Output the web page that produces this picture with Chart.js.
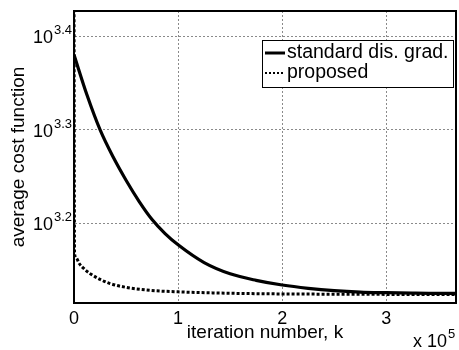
<!DOCTYPE html>
<html><head><meta charset="utf-8">
<script src="https://cdn.jsdelivr.net/npm/chart.js@4.4.1/dist/chart.umd.min.js"></script>
<style>html,body{margin:0;padding:0;background:#fff;}</style>
</head><body>
<canvas id="c" width="459" height="350"></canvas>
<script>
// ---- data ----
const iterStandard = [0, 12500, 25000, 37500, 50000, 62500, 75000, 87500, 100000, 125000, 150000, 175000, 200000, 225000, 250000, 275000, 300000, 325000, 350000, 367000];
const costStandard = [2398.8, 2172.7, 1995.3, 1866.4, 1761.9, 1673.0, 1599.6, 1545.3, 1503.1, 1438.8, 1399.6, 1377.2, 1361.4, 1350.5, 1342.8, 1338.1, 1336.0, 1334.4, 1333.5, 1333.5];
const iterProposed = [0, 500, 2000, 5000, 10000, 15000, 25000, 34000, 50000, 73000, 100000, 150000, 200000, 250000, 300000, 367000];
const costProposed = [2818.4, 1472.3, 1455.5, 1435.5, 1415.8, 1401.2, 1380.4, 1367.1, 1353.6, 1343.7, 1338.8, 1334.1, 1331.9, 1331.0, 1330.4, 1329.8];
const seriesNames = ['standard dis. grad.', 'proposed'];
const xTicks = [0, 100000, 200000, 300000];
const xTickLabels = ['0', '1', '2', '3'];
const yTickValues = [1584.89, 1995.26, 2511.89];
const yTickBase = '10';
const yTickExponents = ['3.2', '3.3', '3.4'];
const xMultiplierBase = 'x 10';
const xMultiplierExp = '5';
const xTitle = 'iteration number, k';
const yTitle = 'average cost function';

const FONT = '"Liberation Sans", Arial, Helvetica, sans-serif';

const toXY = (xs, ys) => xs.map((x, i) => ({x: x, y: ys[i]}));

const decor = {
  id: 'decor',
  afterDatasetsDraw(chart) {
    const {ctx, chartArea: a} = chart;
    ctx.save();
    ctx.strokeStyle = '#000';
    ctx.lineWidth = 2;
    ctx.setLineDash([]);
    ctx.strokeRect(a.left, a.top, a.right - a.left, a.bottom - a.top);
    ctx.restore();
  },
  afterDraw(chart) {
    const {ctx} = chart;
    const ys = chart.scales.y;
    ctx.save();
    ctx.fillStyle = '#000';
    // y tick labels with superscripts
    yTickValues.forEach((v, i) => {
      const py = ys.getPixelForValue(v);
      ctx.font = '18px ' + FONT;
      ctx.textAlign = 'right';
      ctx.textBaseline = 'alphabetic';
      ctx.fillText(yTickBase, 53, py + 7);
      ctx.font = '13px ' + FONT;
      ctx.textAlign = 'left';
      ctx.fillText(yTickExponents[i], 54, py - 2);
    });
    // x multiplier
    ctx.font = '18px ' + FONT;
    ctx.textAlign = 'left';
    ctx.textBaseline = 'alphabetic';
    ctx.fillText(xMultiplierBase, 413, 347);
    ctx.font = '13px ' + FONT;
    ctx.fillText(xMultiplierExp, 448, 338);
    // legend
    const lx = 262, ly = 40, lw = 191, lh = 47;
    ctx.fillStyle = '#fff';
    ctx.fillRect(lx, ly, lw, lh);
    ctx.strokeStyle = '#000';
    ctx.lineWidth = 1;
    ctx.strokeRect(lx + 0.5, ly + 0.5, lw, lh);
    const rows = [53, 73];
    chart.data.datasets.forEach((ds, i) => {
      ctx.beginPath();
      ctx.lineWidth = i === 0 ? 3 : 2;
      ctx.setLineDash(i === 0 ? [] : [2, 2]);
      ctx.moveTo(265, rows[i]);
      ctx.lineTo(285, rows[i]);
      ctx.stroke();
      ctx.setLineDash([]);
      ctx.fillStyle = '#000';
      ctx.font = '19.5px ' + FONT;
      ctx.textAlign = 'left';
      ctx.textBaseline = 'middle';
      ctx.fillText(ds.label, 287, rows[i]);
    });
    ctx.restore();
  }
};

new Chart(document.getElementById('c'), {
  type: 'line',
  data: {
    datasets: [
      {label: seriesNames[0], data: toXY(iterStandard, costStandard), borderColor: '#000', borderWidth: 3.2, pointRadius: 0, cubicInterpolationMode: 'monotone', fill: false},
      {label: seriesNames[1], data: toXY(iterProposed, costProposed), borderColor: '#000', borderWidth: 3, borderDash: [3, 2], pointRadius: 0, cubicInterpolationMode: 'monotone', fill: false}
    ]
  },
  options: {
    responsive: false,
    animation: false,
    devicePixelRatio: 1,
    layout: {padding: {top: 11, right: 3, left: 0, bottom: 0}},
    plugins: {legend: {display: false}, tooltip: {enabled: false}},
    scales: {
      x: {
        type: 'linear',
        min: 0, max: 367000,
        afterBuildTicks: s => { s.ticks = xTicks.map(v => ({value: v})); },
        afterFit: s => { s.height = 47; },
        ticks: {
          color: '#000', padding: 5, maxRotation: 0, autoSkip: false,
          font: {family: FONT, size: 18},
          callback: (v) => { const i = xTicks.indexOf(v); return i >= 0 ? xTickLabels[i] : ''; }
        },
        grid: {color: '#8a8a8a', lineWidth: 1, drawTicks: false},
        border: {display: true, color: '#000', width: 2, dash: [2, 2]},
        title: {display: true, text: xTitle, color: '#000', font: {family: FONT, size: 19}, padding: {top: 0, bottom: 6}}
      },
      y: {
        type: 'logarithmic',
        min: 1302.5, max: 2672,
        afterBuildTicks: s => { s.ticks = yTickValues.map(v => ({value: v})); },
        afterFit: s => { s.width = 74; },
        ticks: {display: true, callback: () => ''},
        grid: {color: '#8a8a8a', lineWidth: 1, drawTicks: false},
        border: {display: true, color: '#000', width: 2, dash: [2, 2]},
        title: {display: true, text: yTitle, color: '#000', font: {family: FONT, size: 19}, padding: {top: 7, bottom: 0}}
      }
    }
  },
  plugins: [decor]
});
</script>
</body></html>
